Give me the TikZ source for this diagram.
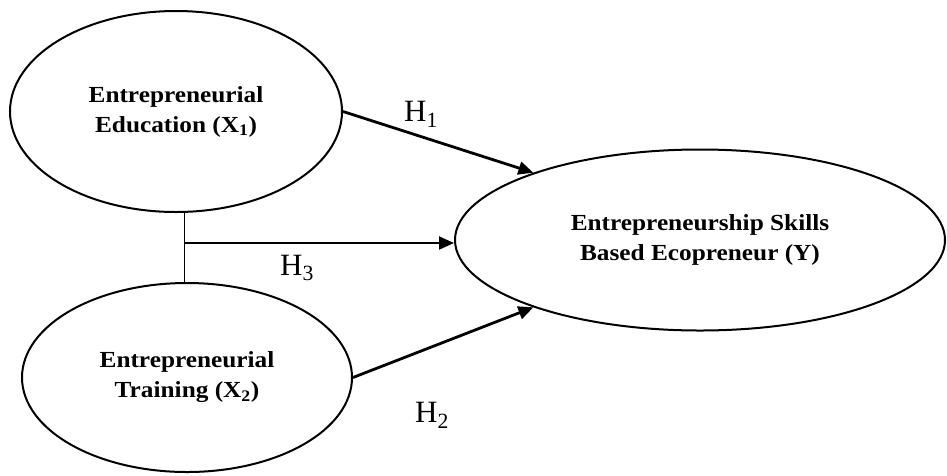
\documentclass[tikz,border=0pt]{standalone}
\usepackage{fontspec}
\setmainfont{Liberation Serif}
\newfontfamily\varfont[FakeStretch=1.1]{Liberation Serif}
\usetikzlibrary{shapes.geometric,arrows.meta}

\begin{document}
\begin{tikzpicture}[x=1pt, y=-1pt,
  var/.style={draw, ellipse, line width=2pt, inner sep=0pt, align=center,
    font=\varfont\bfseries\fontsize{23}{30}\selectfont},
  path/.style={line width=2.8pt, -{Triangle[length=15pt, width=13pt]}},
  hyp/.style={font=\fontsize{31}{31}\selectfont}]
  \useasboundingbox (0,0) rectangle (947,475);
  \node[var, minimum width=332pt, minimum height=201pt] (x1) at (176,111.5) {Entrepreneurial\\Education (X\textsubscript{1})};
  \node[var, minimum width=330pt, minimum height=189pt] (x2) at (187,377.5) {Entrepreneurial\\Training (X\textsubscript{2})};
  \node[var, minimum width=490pt, minimum height=181pt] (y) at (700,240) {Entrepreneurship Skills\\Based Ecopreneur (Y)};
  \coordinate (mid) at (184,243);
  \draw[line width=1pt] (mid |- x1.south) -- (mid |- x2.north);
  \draw[path] (x1.east) -- (y.158);
  \draw[path] (x2.east) -- (y.202);
  \draw[path, line width=2pt] (mid) -- (mid -| y.west);
  \node[hyp] (h1) at (421,114) {H\textsubscript{1}};
  \node[hyp] (h3) at (297,268) {H\textsubscript{3}};
  \node[hyp] (h2) at (432,415) {H\textsubscript{2}};
\end{tikzpicture}
\end{document}
